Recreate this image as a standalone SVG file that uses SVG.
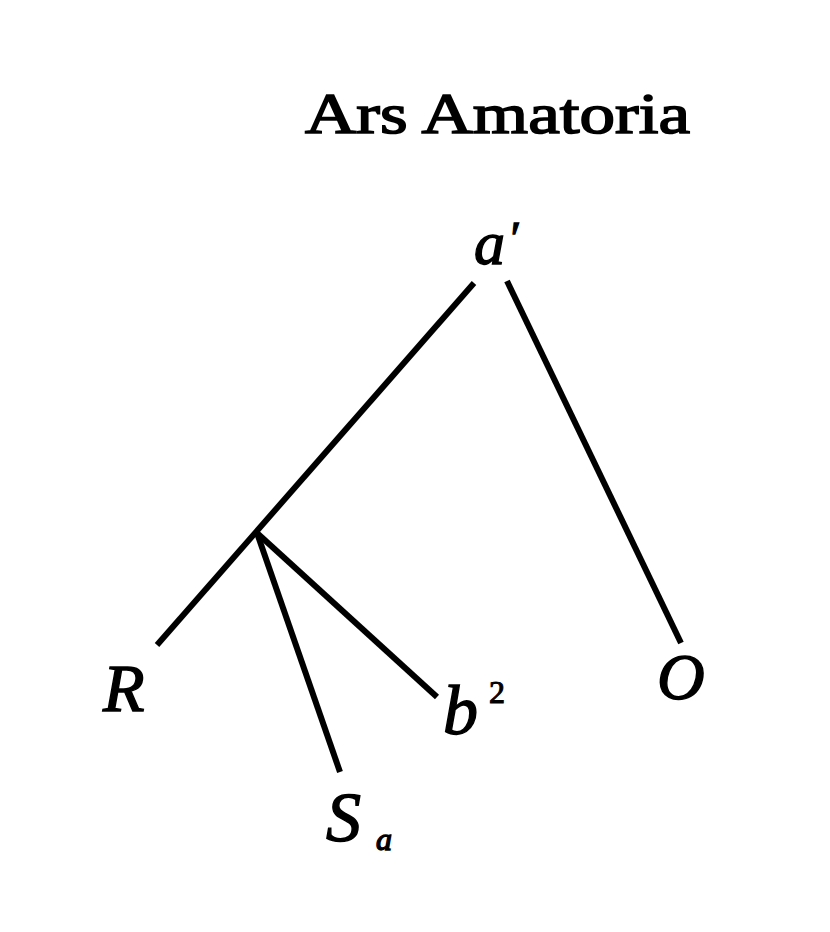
<svg xmlns="http://www.w3.org/2000/svg" width="830" height="932" viewBox="0 0 830 932">
<style>
.lbl{font-family:"Liberation Serif","DejaVu Serif",serif;font-style:italic;fill:#000;stroke:#000;stroke-width:1.4}
.edge{stroke:#000;stroke-width:6;stroke-linecap:butt;fill:none}
</style>
<rect width="830" height="932" fill="#fff"/>
<text id="title" x="305" y="133" font-family="Liberation Serif, DejaVu Serif, serif" font-size="58" textLength="385" lengthAdjust="spacingAndGlyphs" stroke="#000" stroke-width="1.6">Ars Amatoria</text>
<g id="connectors">
<line class="edge" x1="474" y1="283" x2="157" y2="645"/>
<line class="edge" x1="507" y1="281" x2="681" y2="643"/>
<line class="edge" x1="257" y1="533" x2="340" y2="772"/>
<line class="edge" x1="257" y1="533" x2="437" y2="697"/>
</g>
<g id="node-a"><text class="lbl" x="474" y="264" font-size="62">a</text><text class="lbl" x="508" y="254" font-size="46">′</text></g>
<g id="node-R"><text class="lbl" x="103" y="711" font-size="68">R</text></g>
<g id="node-Sa"><text class="lbl" x="326" y="841" font-size="70">S</text><text class="lbl" x="376" y="850" font-size="32">a</text></g>
<g id="node-b2"><text class="lbl" x="443" y="734" font-size="70">b</text><text x="489" y="703" font-family="Liberation Serif, DejaVu Serif, serif" font-size="32" stroke="#000" stroke-width="1">2</text></g>
<g id="node-O"><text class="lbl" x="657" y="699" font-size="66">O</text></g>
</svg>
